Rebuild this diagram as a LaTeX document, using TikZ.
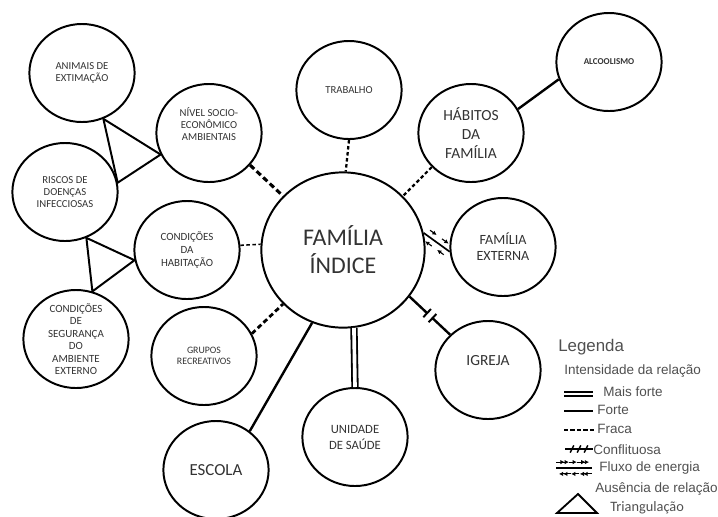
\documentclass[tikz,border=0pt]{standalone}
\usepackage{fontspec}
\setmainfont{Carlito}
\newfontfamily\legfont{Liberation Sans}
\usetikzlibrary{shapes.geometric,arrows.meta,decorations.markings}
\definecolor{txtgray}{HTML}{333333}
\definecolor{leggray}{HTML}{505050}
\newcommand\fs[2]{\fontsize{#1}{#2}\selectfont}
\newcommand\fluxoarr{%
  \draw[line width=0.8pt,-{Latex[length=3pt,width=3.2pt]}] (-3.8pt,4.2pt) -- (2pt,4.2pt);
  \draw[line width=0.8pt,-{Latex[length=3pt,width=3.2pt]}] (3.8pt,-4.2pt) -- (-2pt,-4.2pt);}

\begin{document}
\begin{tikzpicture}[x=0.025cm, y=-0.025cm,
  bubble/.style={ellipse, draw, line width=1.4pt, minimum width=2.63cm,
    minimum height=2.45cm, inner sep=0pt, align=center, text=txtgray},
  btext/.style={align=center, text=txtgray, inner sep=0pt},
  fraca/.style={line width=1.6pt, dash pattern=on 2.5pt off 1.8pt},
  forte/.style={line width=1.7pt},
  maisforte/.style={double, double distance=2.6pt, line width=1.3pt},
  tri/.style={line width=1.4pt, line join=miter},
  fluxo/.style={line width=1.2pt, postaction={decorate}, decoration={markings,
    mark=at position 0.28 with {\fluxoarr}, mark=at position 0.74 with {\fluxoarr}}},
  rompida/.style={line width=1.7pt, postaction={decorate}, decoration={markings,
    mark=at position 0.5 with {
      \fill[white] (-2.6pt,-2pt) rectangle (2.6pt,2pt);
      \draw[line width=1.4pt] (-2.6pt,-4pt) -- (-2.6pt,4pt);
      \draw[line width=1.4pt] (2.6pt,-4pt) -- (2.6pt,4pt);}}},
  conflito/.style={line width=1.2pt, postaction={decorate}, decoration={markings,
    mark=at position 0.25 with {\draw[line width=1pt] (-1.3pt,-2.6pt) -- (1.3pt,2.6pt);},
    mark=at position 0.5 with {\draw[line width=1pt] (-1.3pt,-2.6pt) -- (1.3pt,2.6pt);},
    mark=at position 0.75 with {\draw[line width=1pt] (-1.3pt,-2.6pt) -- (1.3pt,2.6pt);}}},
  leg/.style={font=\legfont\fs{9.6}{11}, text=leggray, anchor=west, inner sep=0pt}]
  \useasboundingbox (0,0) rectangle (718,516);

  % Central family
  \node[bubble, minimum width=4.08cm, minimum height=3.88cm, font=\fs{17}{20}]
    (indice) at (343,250) {FAMÍLIA\\ÍNDICE};

  % Surrounding systems
  \node[bubble, font=\fs{7.6}{8.6}] (animais) at (82,73) {ANIMAIS DE\\EXTIMAÇÃO};
  \node[bubble] (nivel) at (209,133) {};
  \node[btext, font=\fs{7.6}{8.6}] (nivel-txt) at (209,124) {NÍVEL SOCIO-\\ECONÔMICO\\AMBIENTAIS};
  \node[bubble, font=\fs{7.6}{8.6}] (riscos) at (65,192) {RISCOS DE\\DOENÇAS\\INFECCIOSAS};
  \node[bubble, font=\fs{7.8}{9.2}] (habitacao) at (187,250) {CONDIÇÕES\\DA\\HABITAÇÃO};
  \node[bubble] (seguranca) at (76,339) {};
  \node[btext, font=\fs{7.8}{8.9}] (seguranca-txt) at (76,339)
    {CONDIÇÕES\\DE\\SEGURANÇA\\DO\\AMBIENTE\\EXTERNO};
  \node[bubble, font=\fs{7}{8}] (grupos) at (204,356) {GRUPOS\\RECREATIVOS};
  \node[bubble, font=\fs{12}{14}] (escola) at (216,470) {ESCOLA};
  \node[bubble, font=\fs{7.6}{9}] (trabalho) at (349,90) {TRABALHO};
  \node[bubble, font=\fs{11}{13.2}] (habitos) at (471,133) {HÁBITOS\\DA\\FAMÍLIA};
  \node[bubble, font=\bfseries\fs{6.4}{8}] (alcoolismo) at (609,62) {ALCOOLISMO};
  \node[bubble, font=\fs{10}{11.4}] (externa) at (503,247) {FAMÍLIA\\EXTERNA};
  \node[bubble] (igreja) at (488,370) {};
  \node[btext, font=\fs{11}{13}] (igreja-txt) at (488,361) {IGREJA};
  \node[bubble, font=\fs{9}{11.4}] (unidade) at (355,437) {UNIDADE\\DE SAÚDE};

  % Relations
  \draw[fraca, line width=2.2pt, dash pattern=on 4pt off 2.4pt] (nivel.-38) -- (indice.138);
  \draw[fraca] (trabalho.-90) -- (indice.88);
  \draw[fraca] (habitos.221) -- (indice.42);
  \draw[fraca, line width=1.1pt] (habitacao.5) -- (indice.176);
  \draw[fraca, line width=2pt, dash pattern=on 3.5pt off 2.2pt] (grupos.25) -- (indice.222);
  \draw[forte] (escola.49) -- (indice.247);
  \draw[maisforte] (unidade.north) -- (indice.-82);
  \draw[rompida] (indice.-35) -- (igreja.137);
  \draw[fluxo] (indice.12) -- (externa.185);
  \draw[forte] (habitos.27) -- (alcoolismo.199);

  % Triangulations
  \draw[tri] (animais.-65) -- (riscos.10) -- (nivel.204) -- cycle;
  \draw[tri] (riscos.-65) -- (seguranca.71) -- (habitacao.191) -- cycle;

  % Legend
  \node[leg, font=\legfont\fs{12}{14}] (legenda) at (558,347) {Legenda};
  \node[leg] (intensidade) at (564,371) {Intensidade da relação};
  \draw[maisforte, line width=1.1pt, double distance=1.6pt] (564,394) -- (593,394);
  \node[leg] (l-maisforte) at (603,392) {Mais forte};
  \draw[forte, line width=1.3pt] (564,411) -- (593,411);
  \node[leg] (l-forte) at (597,410) {Forte};
  \draw[line width=1.3pt, dash pattern=on 3pt off 1.6pt] (564,430) -- (594,430);
  \node[leg] (l-fraca) at (597,429) {Fraca};
  \draw[conflito] (565,449) -- (593,449);
  \node[leg] (l-conflito) at (593,450) {Conflituosa};
  \draw[fluxo, line width=1pt, decoration={markings,
    mark=at position 0.16 with {\fluxoarr}, mark=at position 0.5 with {\fluxoarr},
    mark=at position 0.84 with {\fluxoarr}}] (556,468) -- (592,468);
  \node[leg] (l-fluxo) at (599,468) {Fluxo de energia};
  \node[leg] (l-ausencia) at (595,489) {Ausência de relação};
  \draw[tri, line width=1.3pt] (578,494) -- (557,513) -- (597,513) -- cycle;
  \node[leg, font=\fs{10.2}{12}] (l-triangulacao) at (610,508) {Triangulação};
\end{tikzpicture}
\end{document}
